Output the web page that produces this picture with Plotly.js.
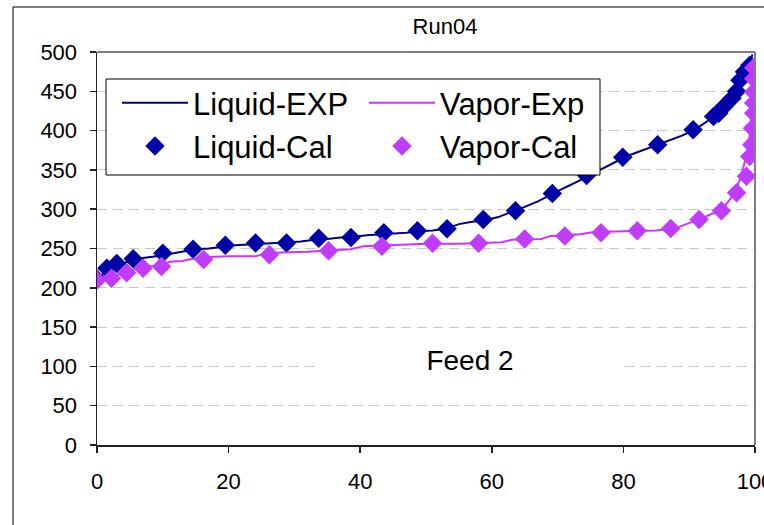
<!DOCTYPE html>
<html>
<head>
<meta charset="utf-8">
<script src="https://cdn.plot.ly/plotly-3.0.1.min.js"></script>
<style>
  html, body { margin: 0; padding: 0; background: #ffffff; }
  #chart { width: 764px; height: 525px; }
</style>
</head>
<body>
<div id="chart"></div>
<script>
// Run04, Feed 2: liquid / vapor temperatures against composition

// Experimental liquid curve
const liqExpX = [0, 1, 2, 3, 4, 5, 7, 9, 11, 13, 15, 17, 19, 21, 23, 25, 27, 29, 31, 33, 35, 37, 39, 41, 43, 45, 47, 49, 51, 53, 55, 57, 59, 61, 63, 65, 67, 69, 71, 73, 75, 77, 79, 81, 83, 85, 87, 89, 91, 93, 95, 96, 97, 98, 99, 99.6];
const liqExpY = [210, 218, 225, 228, 231, 234, 238, 240, 243, 246, 249, 250, 252, 254, 255, 256, 257, 258, 259, 261, 262, 264, 265, 267, 268, 269, 270, 272, 273, 275, 281, 284, 286, 290, 296, 303, 310, 319, 327, 335, 344, 353, 361, 369, 375, 381, 387, 394, 402, 413, 425, 432, 443, 458, 475, 497];

// Experimental vapor curve
const vapExpX = [0, 1, 2, 3, 4, 5, 6, 7, 8, 9, 10, 11, 13, 14, 16, 20, 24, 26, 28, 32, 36, 38.5, 40.5, 45, 50, 55, 58, 61.5, 63, 67.5, 69, 73.5, 75.5, 80, 85, 88, 90, 92, 94, 95.5, 96.5, 97.5, 98.2, 98.8, 99.3, 99.6, 99.8];
const vapExpY = [207, 210, 213, 216, 219, 222, 224, 226, 227, 228, 229, 233, 234, 236, 239, 240, 240, 244, 245, 246, 248, 249, 253, 254, 256, 256, 257, 258, 261, 262, 266, 268, 271, 272, 273, 276, 282, 289, 296, 305, 316, 333, 352, 372, 400, 440, 490];

// Calculated liquid points
const liqCalX = [0, 1.5, 3, 5.5, 10, 14.6, 19.5, 24.1, 28.8, 33.7, 38.6, 43.6, 48.7, 53.2, 58.7, 63.6, 69.2, 74.4, 79.9, 85.2, 90.6, 93.7, 94.5, 95.2, 96.5, 97.2, 97.7, 98.4, 99.2];
const liqCalY = [211, 225, 231, 237, 244, 249, 254, 257, 257, 263, 264, 270, 272.5, 275, 287, 298, 320, 343, 366, 382, 401, 418, 422, 430, 441, 450, 464, 475, 483];

// Calculated vapor points
const vapCalX = [0, 2.2, 4.5, 7, 9.8, 16.2, 26.2, 35.2, 43.3, 51, 58, 65, 71.1, 76.6, 82.1, 87.2, 91.5, 94.9, 97.2, 98.7, 99.2, 99.5, 99.6, 99.8, 99.8, 99.8, 99.8, 99.8];
const vapCalY = [210, 212, 219, 225, 227, 236, 242, 247, 253, 256.6, 256.6, 262, 266, 270, 272.6, 275.6, 287, 298, 321, 342, 367, 382, 403, 422, 435, 449, 466, 480];

const xTicks = [0, 20, 40, 60, 80, 100];
const yTicks = [0, 50, 100, 150, 200, 250, 300, 350, 400, 450, 500];

const FONT = 'Arial, "Liberation Sans", sans-serif';
const LIQ_LINE = '#000080';
const VAP_LINE = '#CC33FF';
const LIQ_MARK = '#0000A8';
const VAP_MARK = '#C03CFF';

const traces = [
  { x: liqExpX, y: liqExpY, name: 'Liquid-EXP', mode: 'lines', type: 'scatter',
    line: { color: LIQ_LINE, width: 2 }, legend: 'legend', legendgroup: 'a' },
  { x: liqCalX, y: liqCalY, name: 'Liquid-Cal', mode: 'markers', type: 'scatter',
    marker: { symbol: 'diamond', size: 15, color: LIQ_MARK }, legend: 'legend', legendgroup: 'b' },
  { x: vapExpX, y: vapExpY, name: 'Vapor-Exp', mode: 'lines', type: 'scatter',
    line: { color: VAP_LINE, width: 2 }, legend: 'legend2', legendgroup: 'c' },
  { x: vapCalX, y: vapCalY, name: 'Vapor-Cal', mode: 'markers', type: 'scatter',
    marker: { symbol: 'diamond', size: 15, color: VAP_MARK }, legend: 'legend2', legendgroup: 'd' }
];

// plot area spans 97..755 px horizontally and 52..445 px vertically
const PL = 97, PR = 755, PT = 52, PB = 445;
const px2x = p => (p - PL) / (PR - PL);
const px2y = p => (PB - p) / (PB - PT);

const legendCommon = {
  orientation: 'v', xanchor: 'left', yanchor: 'top',
  bgcolor: 'rgba(0,0,0,0)', borderwidth: 0,
  font: { family: FONT, size: 31, color: '#000000' },
  itemwidth: 66, tracegroupgap: 9, traceorder: 'normal'
};

const layout = {
  width: 764, height: 525,
  margin: { l: PL, r: 764 - PR, t: PT, b: 525 - PB, pad: 0 },
  paper_bgcolor: '#ffffff', plot_bgcolor: '#ffffff',
  font: { family: FONT, color: '#000000' },
  showlegend: true,
  title: { text: 'Run04', font: { family: FONT, size: 22, color: '#000000' },
           xref: 'container', yref: 'container', x: 445 / 764, y: 1 - 26 / 525,
           xanchor: 'center', yanchor: 'middle' },
  xaxis: {
    range: [0, 100], tickvals: xTicks, ticktext: xTicks.map(String),
    showgrid: false, zeroline: false,
    showline: true, linecolor: '#222222', linewidth: 1.5,
    ticks: 'outside', ticklen: 6, tickwidth: 1.5, tickcolor: '#222222',
    tickfont: { family: FONT, size: 22, color: '#000000' }, ticklabelstandoff: 10,
    ticklabeloverflow: 'allow', fixedrange: true
  },
  yaxis: {
    range: [0, 500], tickvals: yTicks, ticktext: yTicks.map(String),
    showgrid: true, gridcolor: '#c8c8c8', gridwidth: 1, griddash: '10px,6px',
    zeroline: false,
    showline: true, linecolor: '#222222', linewidth: 1.5,
    ticks: 'outside', ticklen: 6, tickwidth: 1.5, tickcolor: '#222222',
    tickfont: { family: FONT, size: 22, color: '#000000' }, ticklabelstandoff: 8,
    fixedrange: true
  },
  legend: Object.assign({}, legendCommon, { x: px2x(117), y: px2y(76) }),
  legend2: Object.assign({}, legendCommon, { x: px2x(364), y: px2y(76) }),
  shapes: [
    // outer chart frame
    { type: 'line', xref: 'paper', yref: 'paper', x0: px2x(13), x1: px2x(13), y0: px2y(540), y1: px2y(7),
      line: { color: '#000000', width: 1 } },
    { type: 'line', xref: 'paper', yref: 'paper', x0: px2x(13), x1: px2x(800), y0: px2y(7), y1: px2y(7),
      line: { color: '#000000', width: 1 } },
    // top and right edges of the plot area
    { type: 'line', xref: 'paper', yref: 'paper', x0: 0, x1: 1, y0: 1, y1: 1,
      line: { color: '#808080', width: 2 } },
    { type: 'line', xref: 'paper', yref: 'paper', x0: 1, x1: 1, y0: 0, y1: 1,
      line: { color: '#808080', width: 2 } },
    // legend box
    { type: 'rect', layer: 'above', xref: 'paper', yref: 'paper',
      x0: px2x(106), x1: px2x(600), y0: px2y(175), y1: px2y(79),
      fillcolor: '#ffffff', line: { color: '#000000', width: 1 } }
  ],
  annotations: [
    { text: 'Feed 2', xref: 'x', yref: 'y', x: 56.7, y: 108, showarrow: false,
      font: { family: FONT, size: 28, color: '#000000' },
      bgcolor: '#ffffff', width: 302, height: 52, xanchor: 'center', yanchor: 'middle' }
  ]
};

Plotly.newPlot('chart', traces, layout, { displayModeBar: false, staticPlot: true });
</script>
</body>
</html>
